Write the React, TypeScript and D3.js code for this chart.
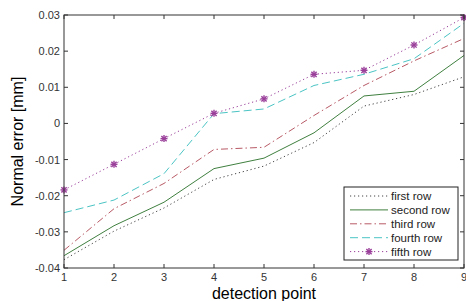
import React from "react";
import * as d3 from "d3";

const points = [1, 2, 3, 4, 5, 6, 7, 8, 9];
const firstRow = [-0.0377, -0.0298, -0.0234, -0.0155, -0.0118, -0.0053, 0.0048, 0.008, 0.0129];
const secondRow = [-0.0366, -0.0283, -0.0218, -0.0125, -0.0096, -0.0026, 0.0076, 0.0089, 0.0188];
const thirdRow = [-0.0351, -0.0236, -0.0166, -0.0072, -0.0066, 0.0022, 0.0105, 0.0173, 0.0235];
const fourthRow = [-0.0247, -0.0212, -0.0139, 0.0027, 0.004, 0.0105, 0.0136, 0.0179, 0.0277];
const fifthRow = [-0.0184, -0.0113, -0.0042, 0.0028, 0.0068, 0.0136, 0.0147, 0.0217, 0.0293];
const seriesNames = ["first row", "second row", "third row", "fourth row", "fifth row"];
const yTicks = [-0.04, -0.03, -0.02, -0.01, 0, 0.01, 0.02, 0.03];
const yTickLabels = ["-0.04", "-0.03", "-0.02", "-0.01", "0", "0.01", "0.02", "0.03"];

const styles = [
  { color: "#444444", dash: "1.2,2.8", marker: false },
  { color: "#3f7f3f", dash: "", marker: false },
  { color: "#b85a66", dash: "7,3,1.5,3", marker: false },
  { color: "#4cc4c4", dash: "8,4", marker: false },
  { color: "#9a3f9a", dash: "1.2,2.8", marker: true },
];

function Star({ x, y, color }: { x: number; y: number; color: string }) {
  const r = 3.5;
  return (
    <g stroke={color} strokeWidth={1.4}>
      <line x1={x - r} y1={y} x2={x + r} y2={y} />
      <line x1={x} y1={y - r} x2={x} y2={y + r} />
      <line x1={x - r * 0.75} y1={y - r * 0.75} x2={x + r * 0.75} y2={y + r * 0.75} />
      <line x1={x - r * 0.75} y1={y + r * 0.75} x2={x + r * 0.75} y2={y - r * 0.75} />
    </g>
  );
}

export default function App() {
  const W = 466, H = 301;
  const L = 64, R = 464, T = 15, B = 268;
  const x = d3.scaleLinear().domain([1, 9]).range([L, R]);
  const y = d3.scaleLinear().domain([-0.04, 0.03]).range([B, T]);
  const data = [firstRow, secondRow, thirdRow, fourthRow, fifthRow];
  const line = d3.line<number>().x((_, i) => x(points[i])).y((d) => y(d));
  const font = "Arial, 'Liberation Sans', sans-serif";
  const legX = 344, legY = 187, legW = 114, legH = 73;
  return (
    <svg width={W} height={H} style={{ position: "absolute", left: 0, top: 0 }} fontFamily={font}>
      <rect x={0} y={0} width={W} height={H} fill="#fff" />
      <text x={278} y={-3} fontSize={15} textAnchor="middle" fill="#000">g</text>
      {data.map((d, k) => (
        <path key={k} d={line(d) || ""} fill="none" stroke={styles[k].color}
          strokeWidth={1} strokeDasharray={styles[k].dash} />
      ))}
      {fifthRow.map((v, i) => (
        <Star key={i} x={x(points[i])} y={y(v)} color={styles[4].color} />
      ))}
      <rect x={L} y={T} width={R - L} height={B - T} fill="none" stroke="#333" strokeWidth={1} />
      {points.map((p) => (
        <g key={p}>
          <line x1={x(p)} x2={x(p)} y1={B} y2={B - 4} stroke="#333" />
          <line x1={x(p)} x2={x(p)} y1={T} y2={T + 4} stroke="#333" />
          <text x={x(p)} y={B + 13} fontSize={11} textAnchor="middle" fill="#333">{p}</text>
        </g>
      ))}
      {yTicks.map((t, i) => (
        <g key={t}>
          <line x1={L} x2={L + 4} y1={y(t)} y2={y(t)} stroke="#333" />
          <line x1={R} x2={R - 4} y1={y(t)} y2={y(t)} stroke="#333" />
          <text x={L - 4} y={y(t) + 4} fontSize={11} textAnchor="end" fill="#333">{yTickLabels[i]}</text>
        </g>
      ))}
      <text x={(L + R) / 2} y={299} fontSize={16} textAnchor="middle" fill="#000">detection point</text>
      <text transform={`translate(23,${(T + B) / 2}) rotate(-90)`} fontSize={16} textAnchor="middle" fill="#000">Normal error [mm]</text>
      <rect x={legX} y={legY} width={legW} height={legH} fill="#fff" stroke="#222" strokeWidth={1} />
      {seriesNames.map((n, k) => {
        const ly = legY + 9 + k * 13.9;
        return (
          <g key={n}>
            <line x1={legX + 6} x2={legX + 44} y1={ly} y2={ly} stroke={styles[k].color}
              strokeDasharray={styles[k].dash} strokeWidth={1} />
            {styles[k].marker && <Star x={legX + 25} y={ly} color={styles[k].color} />}
            <text x={legX + 47} y={ly + 4} fontSize={11.5} fill="#222">{n}</text>
          </g>
        );
      })}
    </svg>
  );
}
